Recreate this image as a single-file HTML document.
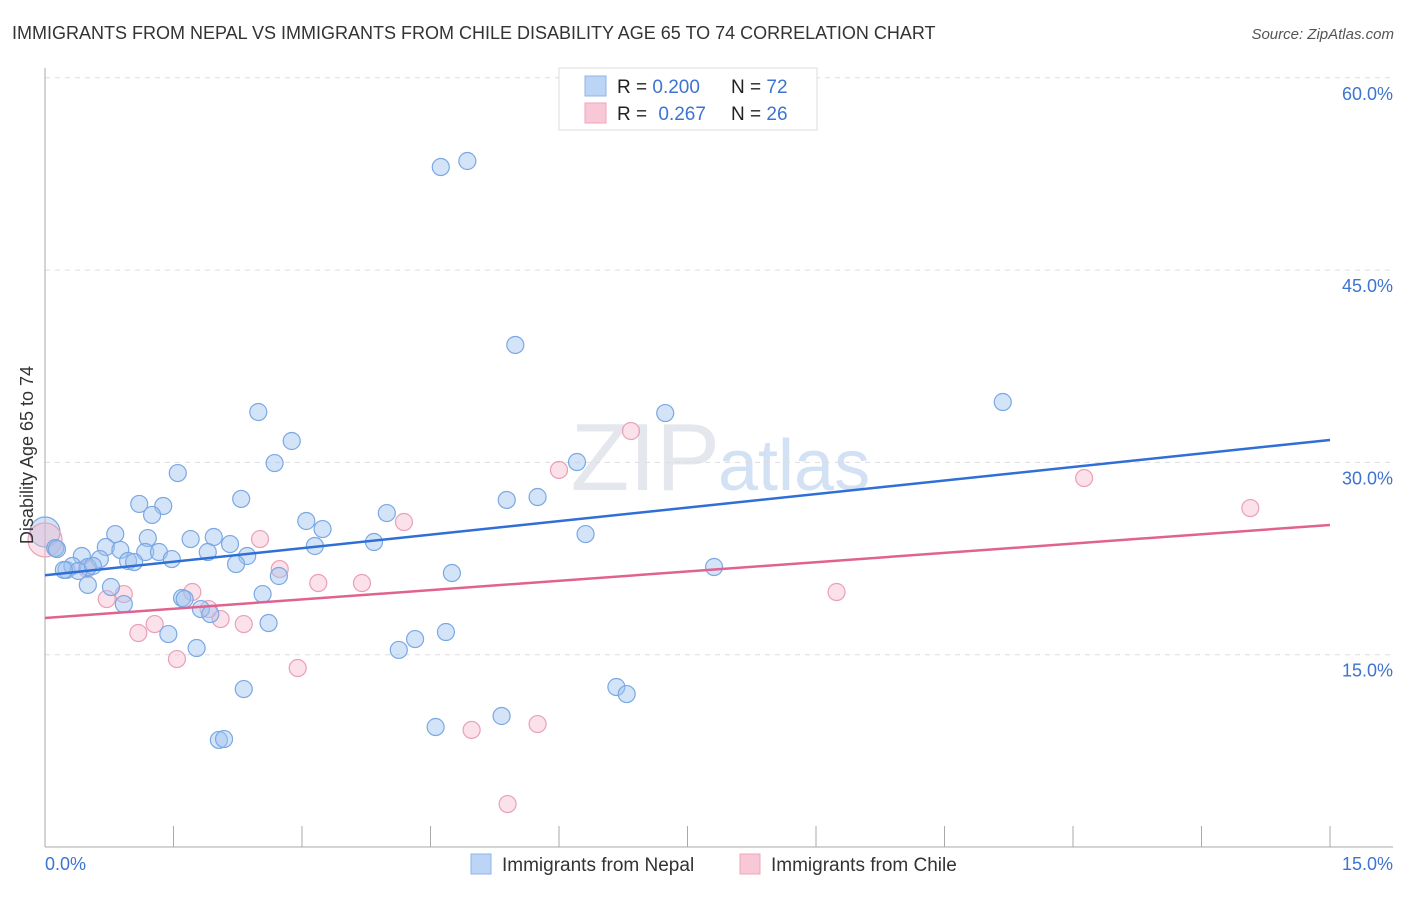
<!DOCTYPE html>
<html><head><meta charset="utf-8"><style>
body{margin:0;background:#fff;font-family:"Liberation Sans",sans-serif;}
svg text{font-family:"Liberation Sans",sans-serif;}
</style></head><body>
<svg id="chart" width="1406" height="892" xmlns="http://www.w3.org/2000/svg">
<text x="12" y="39" font-size="18" fill="#333">IMMIGRANTS FROM NEPAL VS IMMIGRANTS FROM CHILE DISABILITY AGE 65 TO 74 CORRELATION CHART</text>
<text x="1394" y="39" font-size="15" fill="#555" font-style="italic" text-anchor="end">Source: ZipAtlas.com</text>
<text x="720" y="490" font-size="96" fill="#e4e8ee" text-anchor="end" font-family="Liberation Serif">ZIP</text>
<text x="718" y="490" font-size="72" fill="#d3e1f4">atlas</text>
<g id="grid"></g>
<g id="axes"></g>
<g id="marks"></g>
<text transform="translate(33,455) rotate(-90)" font-size="18" fill="#333" text-anchor="middle">Disability Age 65 to 74</text>
<g>
<rect x="559" y="68" width="258" height="62" fill="#fff" stroke="#ddd"/>
<rect x="585" y="76" width="21" height="20" fill="#bcd4f5" stroke="#8fb3e8"/>
<rect x="585" y="103" width="21" height="20" fill="#f9c8d6" stroke="#eea5bb"/>
<text x="617" y="93" font-size="19" fill="#222">R = <tspan fill="#3d73d1">0.200</tspan></text>
<text x="731" y="93" font-size="19" fill="#222">N = <tspan fill="#3d73d1">72</tspan></text>
<text x="617" y="120" font-size="19" fill="#222">R = <tspan fill="#3d73d1" dx="6">0.267</tspan></text>
<text x="731" y="120" font-size="19" fill="#222">N = <tspan fill="#3d73d1">26</tspan></text>
</g>
<g>
<rect x="471" y="854" width="20" height="20" fill="#bcd4f5" stroke="#8fb3e8"/>
<text x="502" y="871" font-size="19" fill="#333">Immigrants from Nepal</text>
<rect x="740" y="854" width="20" height="20" fill="#f9c8d6" stroke="#eea5bb"/>
<text x="771" y="871" font-size="19" fill="#333">Immigrants from Chile</text>
</g>
</svg>
<script>
const nepalX=[4.62,4.93,5.49,2.49,2.88,7.24,11.18,1.55,2.68,6.21,2.29,1.10,1.38,1.25,5.39,5.75,3.99,3.05,3.24,6.31,3.84,3.15,0.82,1.20,1.70,1.97,2.16,0.71,0.88,1.17,1.33,1.90,2.36,0.43,0.64,0.97,1.04,1.48,2.23,0.12,0.25,0.32,0.50,0.39,0.56,7.81,4.75,2.73,0.77,0.50,2.54,1.60,1.63,0.92,1.82,1.93,2.61,1.44,4.68,4.32,4.13,1.77,2.32,6.67,6.79,5.33,4.56,2.03,2.09,0.14,0.22];
const nepalY=[53.04,53.51,39.16,33.93,31.67,33.85,34.71,29.17,29.95,30.03,27.15,26.76,26.60,25.90,27.07,27.30,26.05,25.43,24.80,24.41,23.79,23.48,24.41,24.10,24.02,24.18,23.63,23.40,23.17,23.01,23.01,23.01,22.70,22.70,22.46,22.31,22.23,22.46,22.07,23.32,21.61,21.92,21.84,21.53,21.92,21.84,21.37,21.14,20.28,20.44,19.73,19.42,19.34,18.95,18.56,18.17,17.47,16.61,16.77,16.22,15.37,15.52,12.32,12.48,11.93,10.22,9.36,8.35,8.42,23.24,21.61];
const chileX=[14.07,12.13,6.84,6.00,4.19,2.51,0.12,2.74,3.19,3.70,1.72,0.92,0.72,1.91,2.05,1.28,2.32,1.09,9.24,1.54,2.95,5.75,4.98,5.40,0.49];
const chileY=[26.44,28.78,32.45,29.41,25.35,24.02,23.32,21.68,20.59,20.59,19.89,19.73,19.34,18.56,17.78,17.39,17.39,16.69,19.89,14.66,13.96,9.59,9.13,3.35,21.68];
const bigX=[0.0,0.0];
const bigY=[24.57,23.95];
const trendNepal=[21.2,31.75];
const trendChile=[17.86,25.12];
const yTicks=[15,30,45,60];
const yTickLabels=["15.0%","30.0%","45.0%","60.0%"];
const xTickCount=10;

const NS="http://www.w3.org/2000/svg";
const X0=45,X1=1330,Y0=847,PPY=12.82;
function sx(v){return X0+(X1-X0)*v/15;}
function sy(v){return Y0-v*PPY;}
function mk(tag,attrs,parent){const e=document.createElementNS(NS,tag);for(const k in attrs)e.setAttribute(k,attrs[k]);parent.appendChild(e);return e;}
const grid=document.getElementById('grid'),axes=document.getElementById('axes'),marks=document.getElementById('marks');
yTicks.forEach((t,i)=>{
 const l=mk('line',{x1:X0,x2:1393,y1:sy(t),y2:sy(t),stroke:'#ddd','stroke-dasharray':'5,5'},grid);
 
 
 const tx=mk('text',{x:1393,y:sy(t)+22,'font-size':18,fill:'#3d73d1','text-anchor':'end'},axes);
 tx.textContent=yTickLabels[i];
 
 
});
const ya=mk('line',{x1:X0,x2:X0,y1:68,y2:Y0,stroke:'#aaa'},axes);


const xa=mk('line',{x1:X0,x2:1393,y1:Y0,y2:Y0,stroke:'#aaa'},axes);


for(let i=0;i<=xTickCount;i++){
 const x=sx(15*i/xTickCount);
 const t=mk('line',{x1:x,x2:x,y1:826,y2:Y0,stroke:'#aaa'},axes);
 
 
}
const xl0=mk('text',{x:X0,y:870,'font-size':18,fill:'#3d73d1'},axes);xl0.textContent="0.0%";


const xl1=mk('text',{x:1393,y:870,'font-size':18,fill:'#3d73d1','text-anchor':'end'},axes);xl1.textContent="15.0%";



const bb=mk('circle',{cx:sx(bigX[0]),cy:sy(bigY[0]),r:15,fill:'rgba(160,196,240,0.45)',stroke:'#7aa8e4','stroke-width':1.2},marks);


const bp=mk('circle',{cx:sx(bigX[1]),cy:sy(bigY[1]),r:17,fill:'rgba(245,180,200,0.4)',stroke:'#eaa0b6','stroke-width':1.2},marks);


chileX.forEach((v,i)=>{
 const c=mk('circle',{cx:sx(v),cy:sy(chileY[i]),r:8.5,fill:'rgba(245,180,200,0.4)',stroke:'#eaa0b6','stroke-width':1.2},marks);
 
 
});
nepalX.forEach((v,i)=>{
 const c=mk('circle',{cx:sx(v),cy:sy(nepalY[i]),r:8.5,fill:'rgba(160,196,240,0.45)',stroke:'#7aa8e4','stroke-width':1.2},marks);
 
 
});
const ln=mk('line',{x1:sx(0),y1:sy(trendNepal[0]),x2:sx(15),y2:sy(trendNepal[1]),stroke:'#2f6fd6','stroke-width':2.5},marks);


const lc=mk('line',{x1:sx(0),y1:sy(trendChile[0]),x2:sx(15),y2:sy(trendChile[1]),stroke:'#e0628f','stroke-width':2.5},marks);


</script>
</body></html>
